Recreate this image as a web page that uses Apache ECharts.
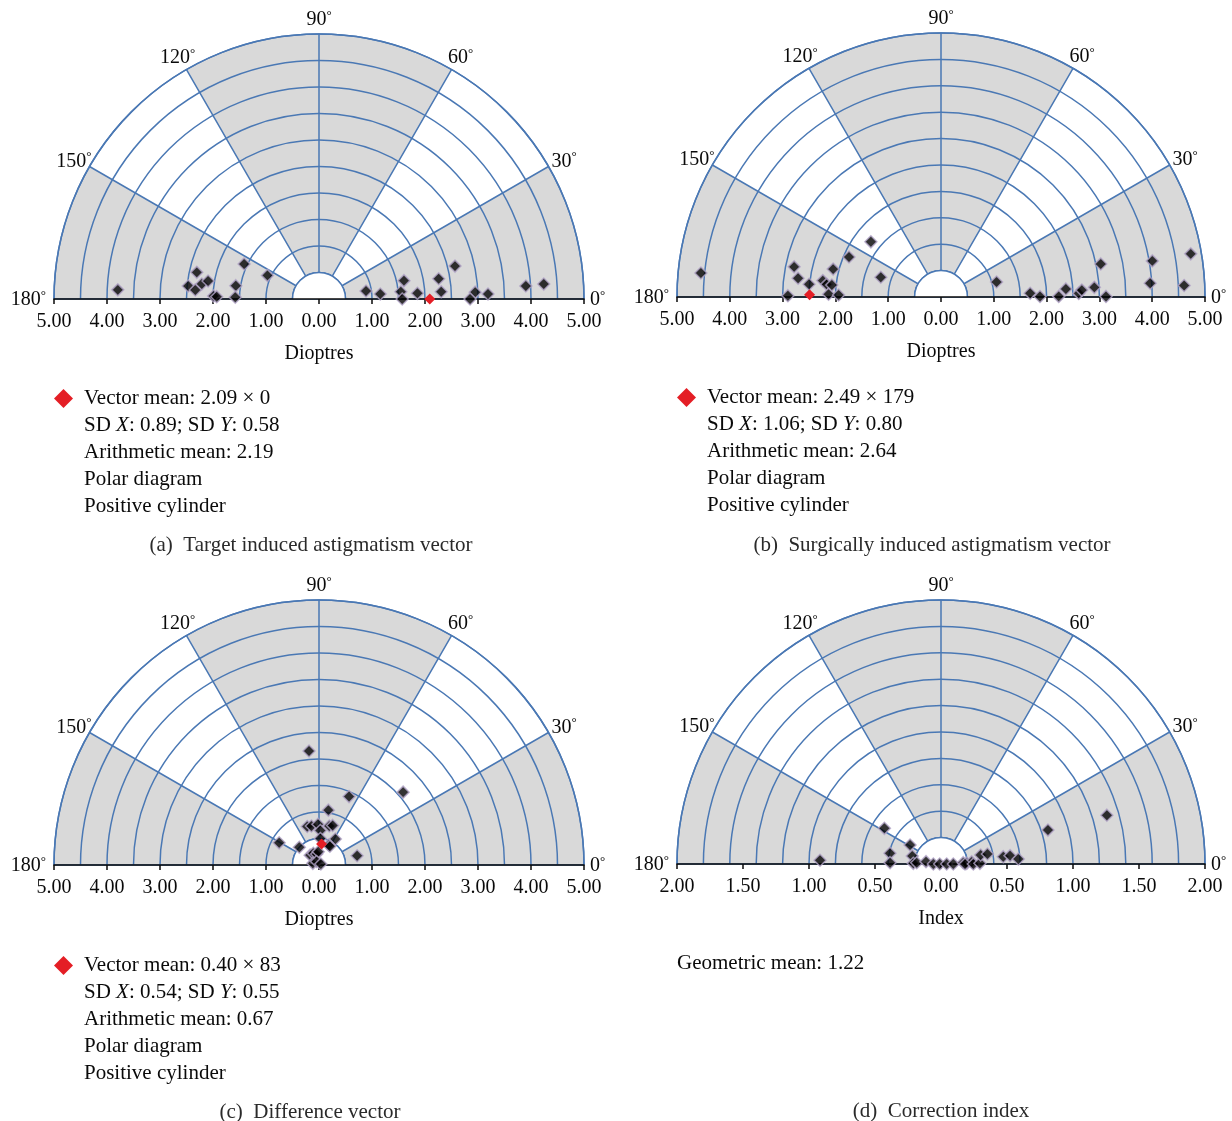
<!DOCTYPE html>
<html>
<head>
<meta charset="utf-8">
<script src="https://cdn.jsdelivr.net/npm/echarts@6/dist/echarts.min.js"></script>
<style>
html,body{margin:0;padding:0;background:#fff;}
#chart{width:1232px;height:1121px;}
</style>
</head>
<body>
<div id="chart"></div>
<script>
// ---------- DATA ----------
// points are [radius, angle in degrees]
const aPoints = [[3.80,177.4],[2.36,167.7],[2.48,174.3],[2.23,172.7],[2.12,170.8],[2.34,175.8],[1.99,178.4],[1.93,178.7],[1.56,154.9],[1.59,170.9],[1.58,178.8],[1.07,155.4],
  [0.90,9.7],[1.16,4.7],[1.64,12.2],[1.55,5.1],[1.57,0],[1.86,3.3],[2.29,9.6],[2.31,3.4],[2.64,13.6],[2.95,2.5],[2.85,0],[3.19,1.7],[3.91,3.6],[4.25,3.8]];
const aMean = [[2.09, 0]];
const bPoints = [[4.57,174.3],[2.84,168.4],[2.73,172.5],[2.51,174.5],[2.90,179.5],[2.11,165.5],[2.26,172.1],[2.18,173.7],[2.08,173.7],[2.13,178.6],[1.94,178.9],[1.90,156.5],[1.69,141.8],[1.20,161.8],
  [1.09,15.1],[1.69,2.4],[1.875,0.3],[2.23,0.3],[2.37,3.7],[2.61,1.5],[2.67,2.8],[2.91,3.6],[3.09,11.7],[3.125,0.2],[4.06,9.7],[3.97,3.75],[4.80,9.8],[4.61,2.7]];
const bMean = [[2.49, 179]];
const cPoints = [[2.16,95.0],[1.41,66.3],[2.10,40.9],[1.05,80.3],[0.74,13.6],[0.86,150.9],[0.50,138],[0.76,107],[0.75,101],[0.77,91.4],[0.65,87.8],[0.76,75.2],[0.79,71],[0.50,87],[0.58,57.9],[0.42,64],[0.41,60],[0.25,132],[0.245,116],[0.21,102],[0.25,93],[0.12,165],[0.08,125],[0.04,30]];
const cMean = [[0.40, 83]];
const dPoints = [[0.917,178.2],[0.507,147.8],[0.395,168.2],[0.386,178.5],[0.275,148.5],[0.226,164.4],[0.21,178.6],[0.184,177],[0.115,171],[0.058,180],[0.01,180],[0.043,0],[0.093,0],
  [0.169,3.4],[0.195,1.5],[0.233,4],[0.182,0],[0.245,0],[0.295,1],[0.308,12.8],[0.36,12.2],[0.475,6.7],[0.527,6.9],[0.587,3.7],[0.85,17.6],[1.31,16.4]];

const angleTicks = [0, 30, 60, 90, 120, 150, 180];
const shadedSectors = [[0, 30], [60, 120], [150, 180]];

const meanLabels = ['Vector mean: 2.09 × 0', 'Vector mean: 2.49 × 179', 'Vector mean: 0.40 × 83'];
const statTexts = [
  'SD {i|X}: 0.89; SD {i|Y}: 0.58\nArithmetic mean: 2.19\nPolar diagram\nPositive cylinder',
  'SD {i|X}: 1.06; SD {i|Y}: 0.80\nArithmetic mean: 2.64\nPolar diagram\nPositive cylinder',
  'SD {i|X}: 0.54; SD {i|Y}: 0.55\nArithmetic mean: 0.67\nPolar diagram\nPositive cylinder',
  'Geometric mean: 1.22'
];
const captions = ['(a)  Target induced astigmatism vector', '(b)  Surgically induced astigmatism vector', '(c)  Difference vector', '(d)  Correction index'];
const axisNames = ['Dioptres', 'Dioptres', 'Dioptres', 'Index'];
const axisMax = [5, 5, 5, 2];
const ringStep = [0.5, 0.5, 0.5, 0.2];
const tickStep = [1, 1, 1, 0.5];

// ---------- LAYOUT ----------
const FONT = '"Liberation Serif", "Times New Roman", serif';
const BLUE = '#4a78b4';
const GRAY = '#d9d9d9';
const INK = '#0a0a0a';
const RED = '#e41e25';
const panels = [
  {cx: 319, cy: 299, R: 265, pts: aPoints, mean: aMean, textX: 84, textY: 425, legX: 54, legY: 388, capX: 311, capY: 545},
  {cx: 941, cy: 297, R: 264, pts: bPoints, mean: bMean, textX: 707, textY: 424, legX: 677, legY: 387, capX: 932, capY: 545},
  {cx: 319, cy: 865, R: 265, pts: cPoints, mean: cMean, textX: 84, textY: 992, legX: 54, legY: 955, capX: 310, capY: 1112},
  {cx: 941, cy: 864, R: 264, pts: dPoints, mean: null, textX: 677, textY: 963, legX: 0, legY: 0, capX: 941, capY: 1111}
];

const chart = echarts.init(document.getElementById('chart'), null, {renderer: 'canvas'});

const option = {
  animation: false,
  backgroundColor: '#fff',
  polar: [], angleAxis: [], radiusAxis: [], grid: [], xAxis: [], yAxis: [], series: [], legend: [], graphic: []
};

const degRich = {
  n: {fontSize: 20, fontFamily: FONT, fill: INK, lineHeight: 22},
  d: {fontSize: 13, fontFamily: FONT, fill: INK, verticalAlign: 'top', lineHeight: 14}
};

panels.forEach((p, i) => {
  const max = axisMax[i], ring = ringStep[i];
  option.polar.push({center: [p.cx, p.cy], radius: [0, p.R]});
  option.angleAxis.push({
    polarIndex: i, type: 'value', min: 0, max: 180, interval: 30,
    startAngle: 0, endAngle: 180, clockwise: false, z: 1,
    axisLine: {lineStyle: {color: BLUE, width: 1.5}},
    axisTick: {show: false},
    splitLine: {lineStyle: {color: BLUE, width: 1.5}},
    axisLabel: {show: false}
  });
  option.radiusAxis.push({
    polarIndex: i, type: 'value', min: 0, max: max, interval: ring, z: 1,
    axisLine: {show: false}, axisTick: {show: false}, axisLabel: {show: false},
    splitLine: {show: true, lineStyle: {color: BLUE, width: 1.5}}
  });
  option.grid.push({left: p.cx - p.R, top: p.cy - 20, width: 2 * p.R, height: 20, containLabel: false});
  option.xAxis.push({
    gridIndex: i, type: 'value', min: -max, max: max, interval: tickStep[i], z: 4,
    axisLine: {show: true, onZero: false, lineStyle: {color: INK, width: 1.5}},
    axisTick: {show: true, inside: false, length: 5, lineStyle: {color: INK, width: 1.5}},
    splitLine: {show: false},
    axisLabel: {formatter: v => Math.abs(v).toFixed(2), fontSize: 20, fontFamily: FONT, color: INK, margin: 13, showMinLabel: true, showMaxLabel: true},
    name: axisNames[i], nameLocation: 'middle', nameGap: 45,
    nameTextStyle: {fontSize: 20, fontFamily: FONT, color: INK}
  });
  option.yAxis.push({gridIndex: i, type: 'value', show: false, min: 0, max: 1});

  // shaded sectors (background)
  option.series.push({
    type: 'custom', coordinateSystem: 'polar', polarIndex: i, z: 0, silent: true,
    data: shadedSectors.map(s => [max, s[0], s[1]]),
    renderItem: (params, api) => {
      const cs = params.coordSys;
      const cx = cs.cx, cy = cs.cy;
      const pa = api.coord([max, api.value(1)]);
      const pb = api.coord([max, api.value(2)]);
      const ph = api.coord([ring, 0]);
      const r = Math.hypot(pa[0] - cx, pa[1] - cy);
      const r0 = Math.hypot(ph[0] - cx, ph[1] - cy);
      let angA = Math.atan2(pa[1] - cy, pa[0] - cx);
      let angB = Math.atan2(pb[1] - cy, pb[0] - cx);
      if (Math.abs(angA) < 1e-6) angA = 0;
      if (angB > angA) angB -= 2 * Math.PI;
      return {type: 'sector', shape: {cx, cy, r0, r, startAngle: angB, endAngle: angA, clockwise: true},
        style: {fill: GRAY}};
    }
  });
  // central hole
  option.series.push({
    type: 'custom', coordinateSystem: 'polar', polarIndex: i, z: 2, silent: true,
    data: [[ring, 0]],
    renderItem: (params, api) => {
      const cs = params.coordSys;
      const ph = api.coord([api.value(0), api.value(1)]);
      const r = Math.hypot(ph[0] - cs.cx, ph[1] - cs.cy);
      return {type: 'group', children: [
        {type: 'sector', shape: {cx: cs.cx, cy: cs.cy, r0: 0, r: r, startAngle: -Math.PI, endAngle: 0, clockwise: true},
          style: {fill: '#fff'}},
        {type: 'arc', shape: {cx: cs.cx, cy: cs.cy, r: r, startAngle: -Math.PI, endAngle: 0, clockwise: true},
          style: {stroke: BLUE, lineWidth: 1.5, fill: null}}
      ]};
    }
  });
  // angle labels (degree marks) positioned through the polar scale
  option.series.push({
    type: 'custom', coordinateSystem: 'polar', polarIndex: i, z: 7, silent: true, clip: false,
    data: angleTicks.map(a => [max, a]),
    renderItem: (params, api) => {
      const cs = params.coordSys;
      const a = api.value(1);
      const pt = api.coord([api.value(0), a]);
      const dx = pt[0] - cs.cx, dy = pt[1] - cs.cy;
      const R = Math.hypot(dx, dy);
      let x, y, align;
      if (a === 0) { x = pt[0] + 6; y = pt[1] + 1; align = 'left'; }
      else if (a === 180) { x = pt[0] - 8; y = pt[1] + 1; align = 'right'; }
      else { const k = (R + 18) / R; x = cs.cx + dx * k; y = cs.cy + dy * k + 4; align = 'center'; }
      return {type: 'text', x: x, y: y, style: {
        text: '{n|' + a + '}{d|°}', rich: degRich, align: align, verticalAlign: 'middle'
      }};
    }
  });
  // data points
  option.series.push({
    type: 'scatter', coordinateSystem: 'polar', polarIndex: i, z: 5,
    symbol: 'diamond', symbolSize: 12,
    itemStyle: {color: '#000', borderColor: '#b3a5c8', borderWidth: 1.5},
    data: p.pts
  });
  if (p.mean) {
    option.series.push({
      name: meanLabels[i], type: 'scatter', coordinateSystem: 'polar', polarIndex: i, z: 6,
      symbol: 'diamond', symbolSize: 11,
      itemStyle: {color: RED, opacity: 1},
      data: p.mean
    });
    option.legend.push({
      data: [{name: meanLabels[i], itemStyle: {color: RED, opacity: 1}}], left: p.legX, top: p.legY, icon: 'diamond',
      itemWidth: 19, itemHeight: 19, selectedMode: false, padding: 0,
      textStyle: {fontSize: 21, fontFamily: FONT, color: INK, padding: [0, 0, 0, 6]}
    });
  }
  option.graphic.push({
    type: 'text', left: p.textX, top: p.textY - 13.5, z: 10,
    style: {
      text: statTexts[i], fontSize: 21, fontFamily: FONT, fill: INK, lineHeight: 27,
      rich: {i: {fontSize: 21, fontFamily: FONT, fontStyle: 'italic', lineHeight: 27, fill: INK}}
    }
  });
  option.graphic.push({
    type: 'text', x: p.capX, y: p.capY, z: 10,
    style: {text: captions[i], fontSize: 21, fontFamily: FONT, fill: '#2a2a2a', align: 'center', verticalAlign: 'middle'}
  });
});

chart.setOption(option);
</script>
</body>
</html>
